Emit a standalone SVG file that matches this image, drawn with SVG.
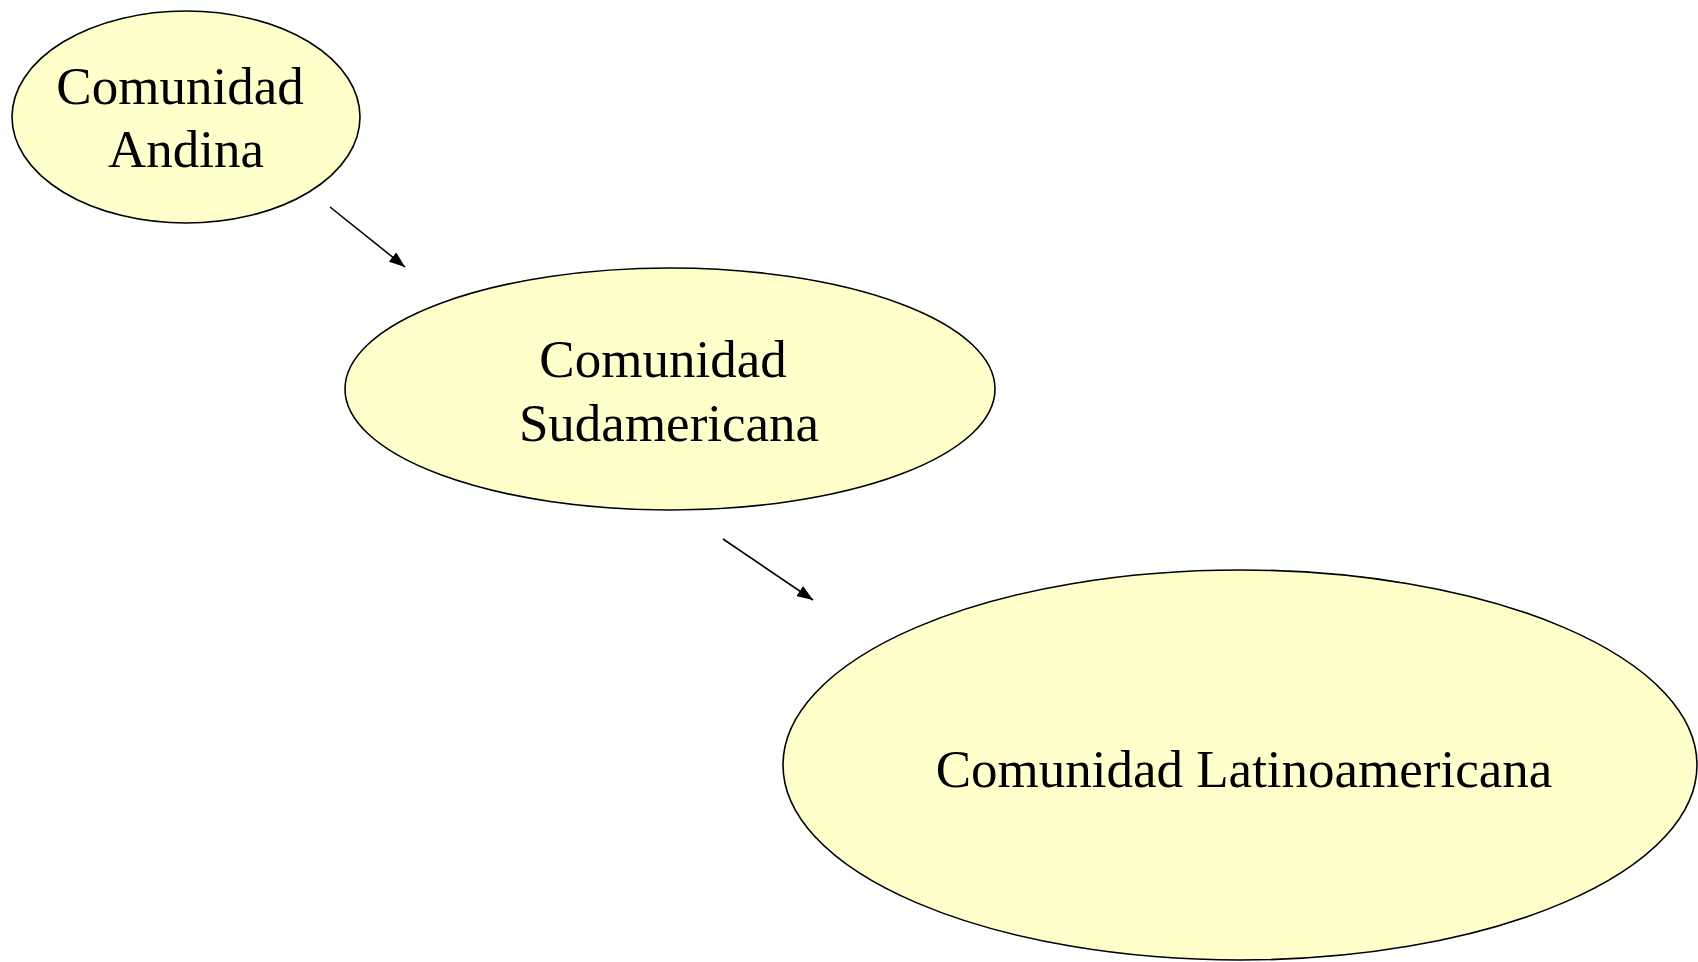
<svg xmlns="http://www.w3.org/2000/svg" width="1698" height="962" viewBox="0 0 1698 962">
<style>
.node{fill:#ffffcc;stroke:#000;stroke-width:1.6}
.lbl{font-family:"Liberation Serif","Times New Roman",serif;font-size:53px;fill:#000;text-anchor:middle}
.edge{stroke:#000;stroke-width:1.6;fill:none;marker-end:url(#arr)}
</style>
<defs>
<marker id="arr" markerUnits="userSpaceOnUse" markerWidth="16" markerHeight="12" refX="16" refY="6" orient="auto">
<path d="M0,0 L16,6 L0,12 Z" fill="#000"/>
</marker>
</defs>
<rect width="1698" height="962" fill="#fff"/>
<g id="edges">
<line class="edge" x1="330" y1="207" x2="405" y2="267"/>
<line class="edge" x1="723" y1="539" x2="813" y2="600"/>
</g>
<g id="andina">
<ellipse class="node" cx="186" cy="117" rx="174" ry="106"/>
<text class="lbl" x="180" y="104">Comunidad</text>
<text class="lbl" x="186" y="167">Andina</text>
</g>
<g id="sudamericana">
<ellipse class="node" cx="670" cy="389" rx="325" ry="121"/>
<text class="lbl" x="663" y="377">Comunidad</text>
<text class="lbl" x="669" y="441">Sudamericana</text>
</g>
<g id="latinoamericana">
<ellipse class="node" cx="1240" cy="765" rx="457" ry="195"/>
<text class="lbl" x="1244" y="787">Comunidad Latinoamericana</text>
</g>
</svg>
